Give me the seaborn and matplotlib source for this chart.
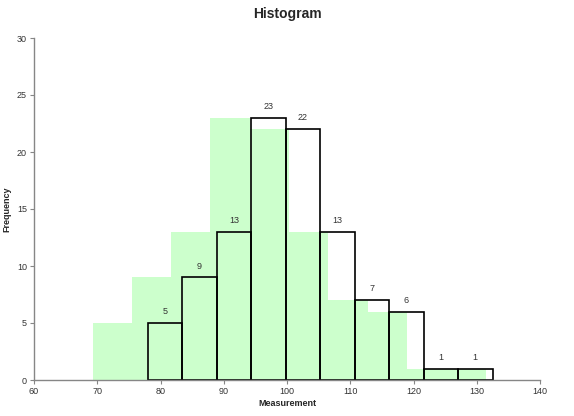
import numpy as np
import pandas as pd
import matplotlib
matplotlib.use("Agg")
import matplotlib.pyplot as plt
import seaborn as sns

# black outlined histogram (labelled)
black_edges = [78.05, 83.4, 88.9, 94.3, 99.8, 105.2, 110.7, 116.1, 121.6, 127.0, 132.5]
black_counts = [5, 9, 13, 23, 22, 13, 7, 6, 1, 1]

# light green filled histogram
green_edges = [69.3, 75.5, 81.7, 87.9, 94.1, 100.3, 106.5, 112.8, 119.0, 125.2, 131.4]
green_counts = [5, 9, 13, 23, 22, 13, 7, 6, 1, 1]

x_ticks = [60, 70, 80, 90, 100, 110, 120, 130, 140]
y_ticks = [0, 5, 10, 15, 20, 25, 30]

sns.set_style("white")
plt.rcParams['font.family'] = ['Liberation Sans', 'DejaVu Sans']

green_df = pd.DataFrame({
    "x": [(a + b) / 2 for a, b in zip(green_edges[:-1], green_edges[1:])],
    "w": green_counts,
})
black_df = pd.DataFrame({
    "x": [(a + b) / 2 for a, b in zip(black_edges[:-1], black_edges[1:])],
    "w": black_counts,
})

fig = plt.figure(figsize=(5.74, 4.16), dpi=100)
ax = fig.add_axes([34 / 574, 1 - 380 / 416, 506 / 574, 342 / 416])

sns.histplot(data=green_df, x="x", weights="w", bins=green_edges, ax=ax,
             color="#ccffcc", alpha=1, edgecolor="none", linewidth=0)
sns.histplot(data=black_df, x="x", weights="w", bins=black_edges, ax=ax,
             fill=False, color="black", edgecolor="black", linewidth=1.2)

# count labels above black bars
for left, right, c in zip(black_edges[:-1], black_edges[1:], black_counts):
    ax.text((left + right) / 2, c + 0.6, str(c), ha="center", va="bottom",
            fontsize=6.5, color="#333333")

ax.set_xlim(60, 140)
ax.set_ylim(0, 30)
ax.set_xticks(x_ticks)
ax.set_yticks(y_ticks)
ax.tick_params(axis="both", labelsize=6.5, length=3, width=0.8,
               color="#868686", direction="out", pad=2, labelcolor="#333333",
               bottom=True, left=True)
for side in ["top", "right"]:
    ax.spines[side].set_visible(False)
for side in ["left", "bottom"]:
    ax.spines[side].set_color("#868686")
    ax.spines[side].set_linewidth(1.0)

ax.set_xlabel("Measurement", fontsize=6.5, fontweight="bold", labelpad=2)
ax.set_ylabel("Frequency", fontsize=6.5, fontweight="bold", labelpad=4)
fig.text(287 / 574, 1 - 14 / 416, "Histogram", ha="center", va="center",
         fontsize=10, fontweight="bold")

fig.savefig("out.png", dpi=100)
